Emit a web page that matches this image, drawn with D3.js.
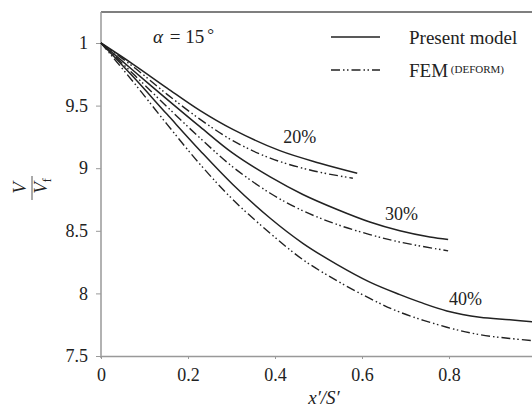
<!DOCTYPE html>
<html>
<head>
<meta charset="utf-8">
<script src="https://cdn.jsdelivr.net/npm/d3@7"></script>
<style>
  body { margin: 0; background: #fff; }
  svg text { font-family: "Liberation Serif", "Times New Roman", "DejaVu Serif", serif; fill: #222; }
</style>
</head>
<body>
<div id="chart"></div>
<script>
const serif = "'Liberation Serif', 'Times New Roman', 'DejaVu Serif', serif";

// values (x'/S', V/Vf)
const xTicks = [0, 0.2, 0.4, 0.6, 0.8, 1];
const yTicks = [1, 0.95, 0.9, 0.85, 0.8, 0.75];
const yTickLabels = ["1", "9.5", "9", "8.5", "8", "7.5"];

const model20 = [[0, 1], [0.074, 0.983], [0.152, 0.964], [0.228, 0.946], [0.303, 0.931], [0.411, 0.914], [0.503, 0.904], [0.589, 0.896]];
const fem20 = [[0, 1], [0.078, 0.980], [0.152, 0.959], [0.228, 0.939], [0.303, 0.922], [0.389, 0.908], [0.487, 0.898], [0.579, 0.892]];
const model30 = [[0, 1], [0.074, 0.978], [0.152, 0.955], [0.228, 0.933], [0.303, 0.912], [0.389, 0.893], [0.464, 0.879], [0.543, 0.867], [0.618, 0.857], [0.687, 0.850], [0.756, 0.845], [0.798, 0.843]];
const fem30 = [[0, 1], [0.078, 0.974], [0.152, 0.949], [0.228, 0.924], [0.303, 0.901], [0.389, 0.880], [0.464, 0.866], [0.543, 0.855], [0.618, 0.847], [0.687, 0.841], [0.798, 0.834]];
const model40 = [[0, 1], [0.074, 0.973], [0.152, 0.943], [0.228, 0.914], [0.303, 0.887], [0.389, 0.860], [0.464, 0.840], [0.543, 0.823], [0.618, 0.809], [0.687, 0.799], [0.733, 0.793], [0.795, 0.786], [0.871, 0.781], [0.940, 0.779], [1.0, 0.777]];
const fem40 = [[0, 1], [0.074, 0.969], [0.152, 0.935], [0.228, 0.903], [0.303, 0.875], [0.389, 0.848], [0.464, 0.827], [0.543, 0.810], [0.618, 0.796], [0.687, 0.785], [0.795, 0.773], [0.871, 0.767], [0.940, 0.764], [1.0, 0.762]];

const curveLabels = [["20%", 0.419, 0.920], ["30%", 0.653, 0.859], ["40%", 0.80, 0.791]];

const svg = d3.select("#chart")
    .append("svg")
    .attr("width", 532)
    .attr("height", 407)
    .attr("font-family", serif);

const x = d3.scaleLinear().domain([0, 1]).range([101, 536]);
const y = d3.scaleLinear().domain([0.75, 1]).range([356, 43]);

const dashFem = "9,3,1.5,2.5,1.5,3";

// top frame line
svg.append("line")
    .attr("x1", 101).attr("x2", 532)
    .attr("y1", 12).attr("y2", 12)
    .style("stroke", "#555").style("stroke-width", 1.6);

// x axis
const xAxis = svg.append("g")
    .attr("transform", "translate(0, 356)")
    .call(d3.axisBottom(x).tickValues(xTicks).tickSize(3).tickSizeOuter(0)
        .tickFormat(d => d3.format("")(d)));
xAxis.attr("font-family", serif).attr("font-size", 18);
xAxis.select(".domain").style("stroke", "#999").style("stroke-width", 1.5);
xAxis.selectAll(".tick line").style("stroke", "#999");
xAxis.selectAll(".tick text").attr("dy", "1.05em").style("fill", "#222");

// y axis
const yAxis = svg.append("g")
    .attr("transform", "translate(101, 0)")
    .call(d3.axisLeft(y).tickValues(yTicks).tickSize(5).tickSizeOuter(0)
        .tickFormat((d, i) => yTickLabels[i]));
yAxis.attr("font-family", serif).attr("font-size", 18);
yAxis.select(".domain").attr("d", "M0,12V358").style("stroke", "#999").style("stroke-width", 1.5);
yAxis.selectAll(".tick line").style("stroke", "#999");
yAxis.selectAll(".tick text").attr("x", -13).style("fill", "#222");

// curves
const line = d3.line()
    .x(d => x(d[0]))
    .y(d => y(d[1]))
    .curve(d3.curveCatmullRom.alpha(0.5));

[model20, model30, model40].forEach(s => {
    svg.append("path").attr("d", line(s))
        .style("fill", "none").style("stroke", "#222").style("stroke-width", 1.5);
});
[fem20, fem30, fem40].forEach(s => {
    svg.append("path").attr("d", line(s))
        .style("fill", "none").style("stroke", "#222").style("stroke-width", 1.4)
        .style("stroke-dasharray", dashFem);
});

// curve labels
svg.selectAll(".clabel")
    .data(curveLabels)
    .join("text")
    .attr("class", "clabel")
    .attr("x", d => x(d[1]))
    .attr("y", d => y(d[2]))
    .text(d => d[0])
    .style("font-size", "18px");

// alpha annotation
const alpha = svg.append("text").attr("x", 153).attr("y", 43).style("font-size", "19px");
alpha.append("tspan").text("α").style("font-style", "italic");
alpha.append("tspan").text(" = 15").attr("dx", 2);
alpha.append("tspan").text("°").attr("dx", 3).attr("dy", -3).style("font-size", "17px");

// legend
svg.append("line").attr("x1", 331).attr("x2", 380).attr("y1", 37).attr("y2", 37)
    .style("stroke", "#222").style("stroke-width", 1.5);
svg.append("line").attr("x1", 331).attr("x2", 380).attr("y1", 70).attr("y2", 70)
    .style("stroke", "#222").style("stroke-width", 1.4).style("stroke-dasharray", dashFem);
svg.append("text").attr("x", 409).attr("y", 44).text("Present model").style("font-size", "19px");
const fem = svg.append("text").attr("x", 409).attr("y", 77).style("font-size", "19px");
fem.append("tspan").text("FEM");
fem.append("tspan").text(" (DEFORM)").attr("dy", -4).style("font-size", "11px");

// x axis title
const xt = svg.append("text").attr("x", 324).attr("y", 404).attr("text-anchor", "middle")
    .style("font-size", "19px").style("font-style", "italic");
xt.append("tspan").text("x′/S′");

// y axis title, rotated fraction V / Vf
const yt = svg.append("g").attr("transform", "translate(33, 188) rotate(-90)");
yt.append("text").attr("x", 0).attr("y", -7).attr("text-anchor", "middle")
    .style("font-size", "19px").style("font-style", "italic").text("V");
yt.append("line").attr("x1", -12).attr("x2", 12).attr("y1", -1).attr("y2", -1)
    .style("stroke", "#555").style("stroke-width", 1);
const vf = yt.append("text").attr("x", 2).attr("y", 14).attr("text-anchor", "middle")
    .style("font-size", "19px");
vf.append("tspan").text("V").style("font-style", "italic");
vf.append("tspan").text("f").attr("dy", 4).style("font-size", "12px");
</script>
</body>
</html>
